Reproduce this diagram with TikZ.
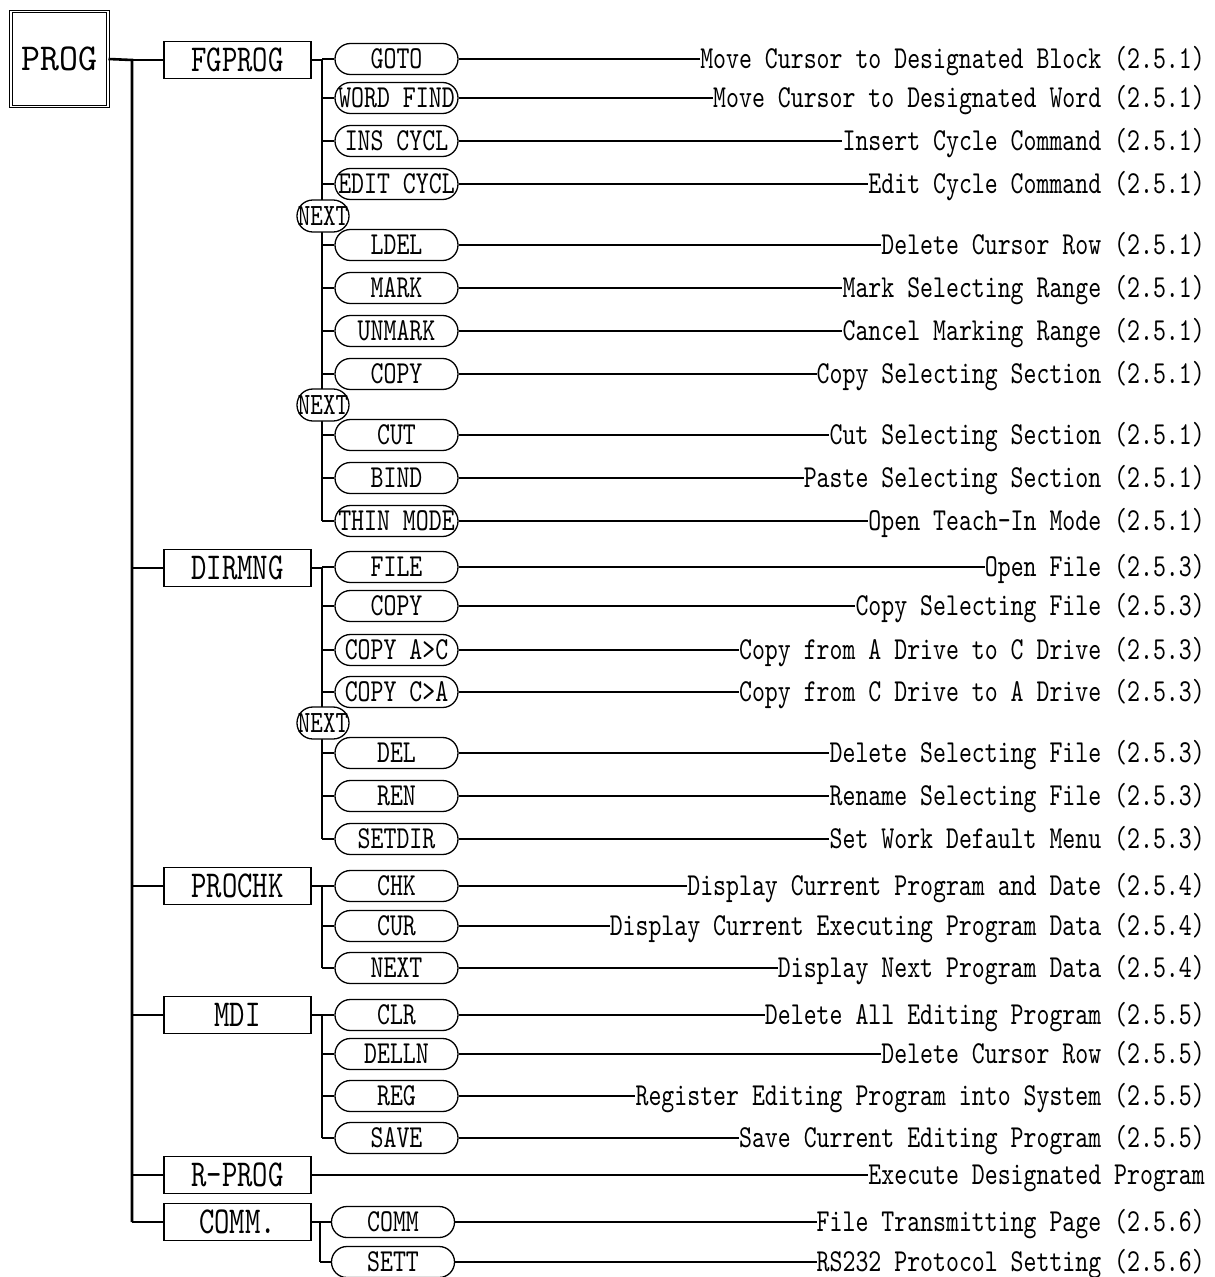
\documentclass[tikz,border=0pt]{standalone}
\usepackage{fontspec}
\newfontfamily\monof[FakeStretch=0.77]{lmmono10-regular.otf}
\newfontfamily\progf[FakeStretch=0.95]{lmmono10-regular.otf}
\begin{document}
\begin{tikzpicture}[x=1pt,y=-1pt,
  conn/.style={line width=1.4pt},
  trunkline/.style={line width=2.6pt},
  progbox/.style={draw, double, line width=1pt, double distance=1.4pt, minimum width=97pt, minimum height=95pt, inner sep=0pt, font=\progf\fontsize{38}{38}\selectfont, text height=22pt, text depth=0pt},
  catbox/.style={draw, line width=1.3pt, fill=white, minimum width=147pt, minimum height=37pt, inner sep=0pt, font=\monof\fontsize{38}{38}\selectfont, text height=22pt, text depth=0pt},
  pill/.style={draw, line width=1.3pt, fill=white, rectangle, rounded corners=15.4pt, minimum width=123pt, minimum height=31pt, inner sep=0pt, font=\monof\fontsize{32}{32}\selectfont, text height=19pt, text depth=0pt},
  nextpill/.style={draw, line width=1.3pt, fill=white, rectangle, rounded corners=15.9pt, minimum width=52pt, minimum height=32pt, inner sep=0pt, font=\monof\fontsize{31}{31}\selectfont, text height=18.5pt, text depth=0pt},
  desc/.style={anchor=east, inner sep=0pt, font=\monof\fontsize{32}{32}\selectfont, text height=19.5pt, text depth=0pt}
]
\useasboundingbox (0,0) rectangle (1215,1277);

% root
\node[progbox] (prog) at (59.5,59) {PROG};
\coordinate (tr) at (132,60);

% categories
\node[catbox] (c1) at (237.5,60) {FGPROG};
\node[catbox] (c2) at (237.5,568) {DIRMNG};
\node[catbox] (c3) at (237.5,886) {PROCHK};
\node[catbox] (c4) at (237.5,1015) {MDI};
\node[catbox] (c5) at (237.5,1175) {R-PROG};
\node[catbox] (c6) at (237.5,1222) {COMM.};

% main trunk
\draw[trunkline] (prog.east) -- (tr) -- (tr |- c6.west);
\foreach \c in {1,...,6}{
  \draw[conn] (c\c.west -| tr) -- (c\c.west);
}

% sub-trunk coordinates
\coordinate (s1) at (322,60);
\coordinate (s2) at (322,568);
\coordinate (s3) at (322,886);
\coordinate (s4) at (322,1015);
\coordinate (s6) at (320,1222);

% FGPROG
\foreach \i/\y/\lbl/\desc in {
  1/59/GOTO/Move Cursor to Designated Block (2.5.1),
  2/98/WORD FIND/Move Cursor to Designated Word (2.5.1),
  3/141/INS CYCL/Insert Cycle Command (2.5.1),
  4/184/EDIT CYCL/Edit Cycle Command (2.5.1),
  5/245/LDEL/Delete Cursor Row (2.5.1),
  6/288/MARK/Mark Selecting Range (2.5.1),
  7/331/UNMARK/Cancel Marking Range (2.5.1),
  8/374/COPY/Copy Selecting Section (2.5.1),
  9/435/CUT/Cut Selecting Section (2.5.1),
  10/478/BIND/Paste Selecting Section (2.5.1),
  11/521/THIN MODE/Open Teach-In Mode (2.5.1)}{
  \node[pill] (p\i) at (396.5,\y) {\lbl};
  \node[desc] (d\i) at (1205,\y) {\desc};
  \draw[conn] (p\i.east) -- (d\i.west);
  \draw[conn] (p\i.west -| s1) -- (p\i.west);
}
\draw[trunkline] (c1.east) -- (s1) -- (s1 |- p11.west);
\node[nextpill] (n1) at (323,216) {NEXT};
\node[nextpill] (n2) at (323,405) {NEXT};

% DIRMNG
\foreach \i/\y/\lbl/\desc in {
  12/567/FILE/Open File (2.5.3),
  13/606/COPY/Copy Selecting File (2.5.3),
  14/650/COPY A>C/Copy from A Drive to C Drive (2.5.3),
  15/692/COPY C>A/Copy from C Drive to A Drive (2.5.3),
  16/753/DEL/Delete Selecting File (2.5.3),
  17/796/REN/Rename Selecting File (2.5.3),
  18/839/SETDIR/Set Work Default Menu (2.5.3)}{
  \node[pill] (p\i) at (396.5,\y) {\lbl};
  \node[desc] (d\i) at (1205,\y) {\desc};
  \draw[conn] (p\i.east) -- (d\i.west);
  \draw[conn] (p\i.west -| s2) -- (p\i.west);
}
\draw[trunkline] (c2.east) -- (s2) -- (s2 |- p18.west);
\node[nextpill] (n3) at (323,723) {NEXT};

% PROCHK
\foreach \i/\y/\lbl/\desc in {
  19/886/CHK/Display Current Program and Date (2.5.4),
  20/926/CUR/Display Current Executing Program Data (2.5.4),
  21/968/NEXT/Display Next Program Data (2.5.4)}{
  \node[pill] (p\i) at (396.5,\y) {\lbl};
  \node[desc] (d\i) at (1205,\y) {\desc};
  \draw[conn] (p\i.east) -- (d\i.west);
  \draw[conn] (p\i.west -| s3) -- (p\i.west);
}
\draw[trunkline] (c3.east) -- (s3) -- (s3 |- p21.west);

% MDI
\foreach \i/\y/\lbl/\desc in {
  22/1015/CLR/Delete All Editing Program (2.5.5),
  23/1054/DELLN/Delete Cursor Row (2.5.5),
  24/1096/REG/Register Editing Program into System (2.5.5),
  25/1138/SAVE/Save Current Editing Program (2.5.5)}{
  \node[pill] (p\i) at (396.5,\y) {\lbl};
  \node[desc] (d\i) at (1205,\y) {\desc};
  \draw[conn] (p\i.east) -- (d\i.west);
  \draw[conn] (p\i.west -| s4) -- (p\i.west);
}
\draw[trunkline] (c4.east) -- (s4) -- (s4 |- p25.west);

% R-PROG
\node[desc] (d26) at (1205,1175) {Execute Designated Program};
\draw[conn] (c5.east) -- (d26.west);

% COMM.
\foreach \i/\y/\lbl/\desc in {
  27/1222/COMM/File Transmitting Page (2.5.6),
  28/1262/SETT/RS232 Protocol Setting (2.5.6)}{
  \node[pill] (p\i) at (393,\y) {\lbl};
  \node[desc] (d\i) at (1205,\y) {\desc};
  \draw[conn] (p\i.east) -- (d\i.west);
  \draw[conn] (p\i.west -| s6) -- (p\i.west);
}
\draw[trunkline] (c6.east) -- (s6) -- (s6 |- p28.west);
\end{tikzpicture}
\end{document}
